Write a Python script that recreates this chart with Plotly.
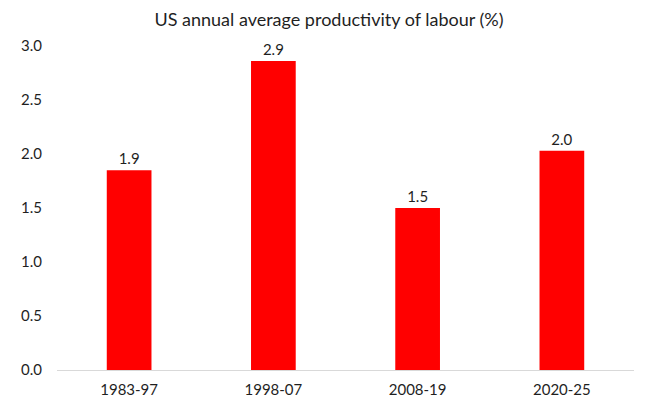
import plotly.graph_objects as go

periods = ["1983-97", "1998-07", "2008-19", "2020-25"]
productivity = [1.85, 2.86, 1.50, 2.03]
labels = ["1.9", "2.9", "1.5", "2.0"]
y_ticks = [0.0, 0.5, 1.0, 1.5, 2.0, 2.5, 3.0]

FONT = "Lato, Open Sans, sans-serif"
TXT = "#1f1f1f"

fig = go.Figure(go.Bar(
    x=periods, y=productivity, text=labels,
    textposition="outside", cliponaxis=False,
    textfont=dict(family=FONT, size=15, color=TXT),
    marker=dict(color="#FF0000", line=dict(width=0)),
    width=0.31,
))

fig.update_layout(
    width=642, height=402,
    margin=dict(l=49, r=16, t=38, b=40),
    paper_bgcolor="white", plot_bgcolor="white",
    title=dict(text="US annual average productivity of labour (%)",
               x=0.5, xanchor="center", y=0.971, yanchor="middle",
               font=dict(family=FONT, size=18, color=TXT)),
    font=dict(family=FONT, size=15, color=TXT),
    showlegend=False,
)
fig.update_yaxes(range=[0, 3], tickvals=y_ticks, ticktext=[f"{v:.1f}" for v in y_ticks],
                 showgrid=False, zeroline=False, showline=False, ticks="",
                 ticklabelstandoff=14, tickfont=dict(size=15, color=TXT))
fig.update_xaxes(type="category", showline=True, linecolor="#D9D9D9", linewidth=1, ticks="",
                 tickfont=dict(size=15, color=TXT), ticklabelstandoff=6)

fig.write_html("out.html")
